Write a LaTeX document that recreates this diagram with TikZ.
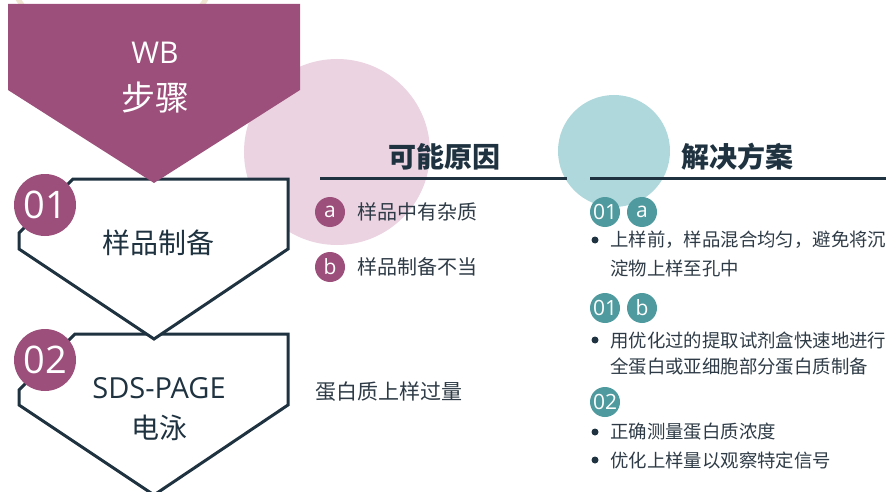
\documentclass[tikz,border=0pt]{standalone}
\usepackage{fontspec}
\setmainfont{Noto Sans CJK SC}
\newfontfamily\latinfont{Open Sans}
\definecolor{wbpurple}{HTML}{9C4F7A}
\definecolor{wbdark}{HTML}{1E3240}
\definecolor{wbtext}{HTML}{2E3B46}
\definecolor{wbpink}{HTML}{EBD3E1}
\definecolor{wbteal}{HTML}{AED8DC}
\definecolor{wbtealdark}{HTML}{4F9A9E}
\definecolor{wbbeige}{HTML}{EFE6D2}
\tikzset{
  stepbox/.style={draw=wbdark, line width=3pt, fill=white, line join=miter},
  bigbadge/.style={circle, fill=wbpurple, minimum size=62pt, inner sep=0pt, text=white, font=\latinfont\fontsize{38}{38}\selectfont},
  pbadge/.style={circle, fill=wbpurple, minimum size=30pt, inner sep=0pt, text=white, font=\latinfont\fontsize{21}{21}\selectfont},
  tbadge/.style={circle, fill=wbtealdark, minimum size=30pt, inner sep=0pt, text=white, font=\latinfont\fontsize{21}{21}\selectfont},
  steptext/.style={text=wbdark, font=\fontsize{28}{40}\selectfont, align=center},
  header/.style={text=wbdark, font=\fontsize{28}{28}\selectfont\bfseries},
  cause/.style={anchor=west, text=wbtext, font=\fontsize{20}{20}\selectfont, inner sep=0pt},
  sol/.style={anchor=west, text=wbtext, font=\fontsize{18.4}{18.4}\selectfont, inner sep=0pt},
  bulletdot/.style={circle, fill=wbdark, minimum size=7pt, inner sep=0pt},
  rule/.style={draw=wbdark, line width=3pt}
}
\begin{document}
\begin{tikzpicture}[x=1pt,y=-1pt]
\useasboundingbox (0,0) rectangle (886,492);
% background decorations
\draw[wbbeige, line width=5pt] (112,-60) circle (111pt);
\fill[wbpink] (337,152) circle (93pt);
\fill[wbteal] (614,151) circle (56pt);
% step boxes
\draw[stepbox] (75,334) -- (288,334) -- (288,405) -- (154,495) -- (19,405) -- (19,390) -- cycle;
\draw[stepbox] (73,179) -- (288,179) -- (288,249) -- (154,339) -- (19,249) -- (19,233) -- cycle;
% top banner
\fill[wbpurple] (8,4) -- (300,4) -- (300,90) -- (154,183) -- (8,90) -- cycle;
\node[text=white, font=\latinfont\fontsize{30}{30}\selectfont] (wb) at (155,53) {WB};
\node[text=white, font=\fontsize{34}{34}\selectfont] (bz) at (155,98) {步骤};
% badges
\node[bigbadge] (b01) at (45,205) {01};
\node[bigbadge] (b02) at (45,360) {02};
\node[steptext] (s1) at (158,243) {样品制备};
\node[text=wbdark, font=\latinfont\fontsize{29}{29}\selectfont] (s2a) at (159,388) {SDS-PAGE};
\node[steptext] (s2b) at (159,428) {电泳};
% headers
\node[header] (h1) at (444,157) {可能原因};
\node[header] (h2) at (737,157) {解决方案};
\coordinate (r1a) at (320,178);
\coordinate (r1b) at (567,178);
\coordinate (r2a) at (590,178);
\coordinate (r2b) at (886,178);
\draw[rule] (r1a) -- (r1b);
\draw[rule] (r2a) -- (r2b);
% causes
\node[pbadge] (ca) at (330,212) {a};
\node[cause] (cat) at (357,212) {样品中有杂质};
\node[pbadge] (cb) at (330,267) {b};
\node[cause] (cbt) at (357,267) {样品制备不当};
\node[cause, font=\fontsize{21}{21}\selectfont] (c2) at (315,392) {蛋白质上样过量};
% solutions
\node[tbadge] (t1) at (605,212) {01};
\node[tbadge] (t1a) at (642,212) {a};
\node[bulletdot] (d1) at (595,240) {};
\node[sol] (x1) at (610,240) {上样前，样品混合均匀，避免将沉};
\node[sol] (x1b) at (610,268) {淀物上样至孔中};
\node[tbadge] (t2) at (605,308) {01};
\node[tbadge] (t2b) at (642,308) {b};
\node[bulletdot] (d2) at (595,340) {};
\node[sol] (x2) at (610,340) {用优化过的提取试剂盒快速地进行};
\node[sol] (x2b) at (610,367) {全蛋白或亚细胞部分蛋白质制备};
\node[tbadge] (t3) at (605,402) {02};
\node[bulletdot] (d3) at (595,432) {};
\node[sol] (x3) at (610,432) {正确测量蛋白质浓度};
\node[bulletdot] (d4) at (595,460) {};
\node[sol] (x4) at (610,460) {优化上样量以观察特定信号};
\end{tikzpicture}
\end{document}
